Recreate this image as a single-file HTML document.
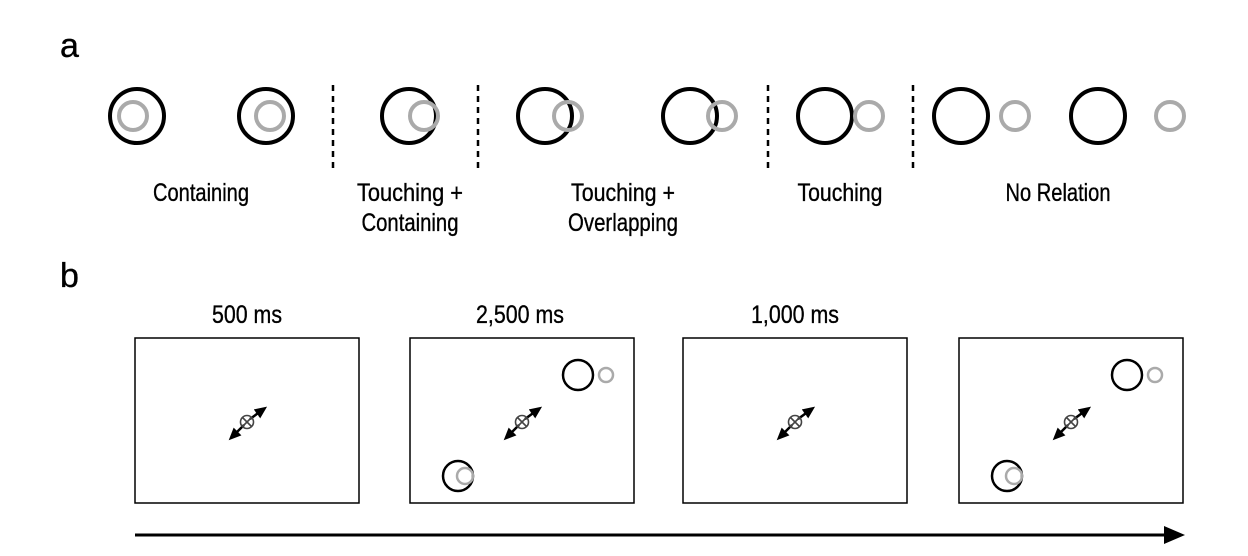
<!DOCTYPE html>
<html><head><meta charset="utf-8"><style>
html,body{margin:0;padding:0;background:#fff;}
svg{display:block;}
text{font-family:"Liberation Sans",sans-serif;fill:#000;stroke:#000;stroke-width:0.35;}
</style></head><body>
<svg width="1248" height="556" viewBox="0 0 1248 556">
<text x="60" y="57" font-size="34">a</text>
<text x="60" y="287" font-size="34">b</text>
<g id="pa"></g>
<g id="pb"></g>
<defs><marker id="ah" markerWidth="7" markerHeight="6" refX="2" refY="3" orient="auto" markerUnits="strokeWidth"><path d="M0,0 L7,3 L0,6 z" fill="#000"/></marker>
<marker id="ah2" markerWidth="5" markerHeight="4.4" refX="2" refY="2.2" orient="auto" markerUnits="strokeWidth"><path d="M0,0 L5,2.2 L0,4.4 z" fill="#000"/></marker></defs>
<line x1="135" y1="535" x2="1170" y2="535" stroke="#000" stroke-width="3" marker-end="url(#ah)"/>
</svg>
<script>
const NS='http://www.w3.org/2000/svg';
const blackX=[137,266,409,545,690,825,961,1098];
const grayX=[133,270,424,568,722,869,1015,1170];
const dividers=[333,478,768,913];
const labels=[["Containing",201,201,96],["Touching +",410,201,106],["Containing",410,231,97],["Touching +",623,201,104],["Overlapping",623,231,110],["Touching",840,201,85],["No Relation",1058,201,105]];
const boxX=[135,410,683,959];
const durations=[["500 ms",247,70],["2,500 ms",520,88],["1,000 ms",795,88]];
function mk(t,a,p){const e=document.createElementNS(NS,t);for(const k in a)e.setAttribute(k,a[k]);p.appendChild(e);return e;}
const pa=document.getElementById('pa'),pb=document.getElementById('pb');
blackX.forEach((x,i)=>{
 const c=mk('circle',{cx:x,cy:116,r:27,fill:'none',stroke:'#000','stroke-width':4},pa);
 
 
 const g=mk('circle',{cx:grayX[i],cy:116,r:14,fill:'none',stroke:'#aaa','stroke-width':4},pa);
 
 
});
dividers.forEach(x=>{
 const l=mk('line',{x1:x,y1:85,x2:x,y2:173,stroke:'#000','stroke-width':2.5,'stroke-dasharray':'6 5'},pa);
 
 
});
labels.forEach(([s,x,y,w])=>{
 const t=mk('text',{x:x,y:y,'font-size':25,'text-anchor':'middle',textLength:w,lengthAdjust:'spacingAndGlyphs'},pa);
 t.textContent=s;
 
 
});
durations.forEach(([s,x,w])=>{
 const t=mk('text',{x:x,y:323,'font-size':25,'text-anchor':'middle',textLength:w,lengthAdjust:'spacingAndGlyphs'},pb);
 t.textContent=s;
 
 
});
function fix(cx,cy){
 const g=mk('g',{},pb);
 
 
 mk('line',{x1:cx-3,y1:cy+3,x2:cx-13,y2:cy+13,stroke:'#000','stroke-width':2.5,'marker-end':'url(#ah2)'},g);
 mk('line',{x1:cx+3,y1:cy-3,x2:cx+14,y2:cy-11,stroke:'#000','stroke-width':2.5,'marker-end':'url(#ah2)'},g);
 mk('circle',{cx:cx,cy:cy,r:6.5,fill:'none',stroke:'#444','stroke-width':1.6},g);
 mk('line',{x1:cx-4.5,y1:cy-4.5,x2:cx+4.5,y2:cy+4.5,stroke:'#444','stroke-width':1.6},g);
 mk('line',{x1:cx-4.5,y1:cy+4.5,x2:cx+4.5,y2:cy-4.5,stroke:'#444','stroke-width':1.6},g);
}
boxX.forEach((x,i)=>{
 const r=mk('rect',{x:x,y:338,width:224,height:165,fill:'none',stroke:'#000','stroke-width':1.5},pb);
 
 
 const cx=x+112,cy=422;
 fix(cx,cy);
 if(i===1||i===3){
  [[cx+56,375,cx+84,375,7],[cx-64,476,cx-57,476,8]].forEach(([bx,by,gx,gy,gr])=>{
   const b=mk('circle',{cx:bx,cy:by,r:15,fill:'none',stroke:'#000','stroke-width':2.5},pb);
   
   
   const g=mk('circle',{cx:gx,cy:gy,r:gr,fill:'none',stroke:'#aaa','stroke-width':2.5},pb);
   
   
  });
 }
});
</script>
</body></html>
